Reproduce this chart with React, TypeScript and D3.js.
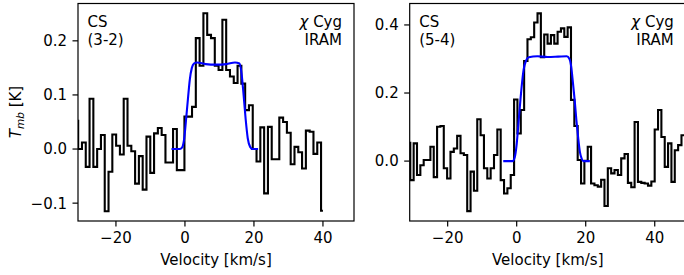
import React from 'react';
import * as d3 from 'd3';

// ---------- data ----------
const X_TICKS = [-20, 0, 20, 40];
const X_DOMAIN = [-31, 49];

// CS (3-2): channel grid start & width (km/s), antenna temperatures (K)
const CS32_V0 = -31.5;
const CS32_DV = 1.1;
const CS32_T = [
  0.052, 0.0, 0.012, -0.033, 0.093, -0.033, 0.0, 0.026, -0.115, -0.042,
  0.027, 0.006, -0.010, 0.093, 0.006, -0.004, -0.064, -0.013, -0.075, 0.023,
  -0.044, 0.029, 0.039, 0.026, -0.025, -0.025, 0.037, -0.039, -0.039, 0.060,
  0.060, 0.078, 0.205, 0.154, 0.251, 0.211, 0.205, 0.154, 0.146, 0.239,
  0.146, 0.134, 0.122, 0.154, 0.121, 0.072, 0.081, 0.0, -0.023, 0.040,
  -0.082, 0.041, -0.019, -0.019, 0.058, 0.050, 0.030, -0.028, 0.004, -0.006,
  -0.036, 0.034, 0.032, -0.009, 0.012, -0.114,
];
const CS32_FIT_V = [-3.9, -1.5, -0.8, -0.2, 0.4, 0.9, 1.4, 2.0, 2.6, 3.5, 6, 9, 12, 14.5, 15.8, 16.4, 17.0, 17.6, 18.2, 18.9, 19.6, 21.2];
const CS32_FIT_T = [0, 0, 0.003, 0.02, 0.06, 0.095, 0.128, 0.150, 0.158, 0.160, 0.157, 0.156, 0.157, 0.160, 0.158, 0.14, 0.10, 0.055, 0.02, 0.004, 0, 0];
const CS32_YTICKS = [-0.1, 0.0, 0.1, 0.2];
const CS32_YDOMAIN = [-0.133, 0.269];

// CS (5-4)
const CS54_V0 = -31.31;
const CS54_DV = 0.97;
const CS54_T = [
  0.054, -0.056, 0.052, -0.041, -0.012, 0.003, 0.003, 0.042, -0.047, 0.101,
  0.103, -0.021, -0.051, 0.027, 0.037, 0.074, 0.023, 0.018, -0.147, -0.031,
  -0.087, 0.123, 0.076, -0.021, -0.051, -0.021, 0.018, 0.093, -0.056, -0.095,
  -0.080, -0.041, 0.181, 0.081, 0.150, 0.294, 0.358, 0.364, 0.407, 0.434,
  0.305, 0.372, 0.345, 0.370, 0.345, 0.380, 0.390, 0.365, 0.393, 0.180,
  0.103, 0.003, -0.066, 0.001, 0.042, -0.066, -0.071, -0.075, -0.055, -0.132,
  -0.021, -0.036, -0.026, -0.041, 0.008, 0.021, -0.064, -0.077, 0.115, -0.061,
  -0.064, -0.066, -0.072, -0.060, 0.093, 0.150, 0.071, -0.017, 0.052, -0.061,
  0.032, 0.047, 0.076, 0.076,
];
const CS54_FIT_V = [-3.9, -1.2, -0.6, 0.0, 0.5, 1.0, 1.5, 2.0, 2.7, 3.5, 6, 9, 12, 14.5, 15.3, 15.8, 16.3, 16.8, 17.3, 17.8, 18.3, 18.8, 19.3, 21.2];
const CS54_FIT_T = [0, 0, 0.01, 0.05, 0.11, 0.17, 0.225, 0.268, 0.295, 0.305, 0.308, 0.306, 0.307, 0.308, 0.300, 0.277, 0.23, 0.179, 0.12, 0.07, 0.028, 0.008, 0, 0];
const CS54_YTICKS = [0.0, 0.2, 0.4];
const CS54_YDOMAIN = [-0.176, 0.463];

// ---------- layout ----------
const W = 684;
const H = 275;
const TOP = 3.5;
const BOTTOM = 221;
const FONT = 'DejaVu Sans, sans-serif';
const FS = 15;

type PanelProps = {
  id: string;
  x0: number;
  x1: number;
  yDomain: number[];
  yTicks: number[];
  v0: number;
  dv: number;
  values: number[];
  fitV: number[];
  fitT: number[];
  line: string;
};

function Panel(p: PanelProps) {
  const x = d3.scaleLinear().domain(X_DOMAIN).range([p.x0, p.x1]);
  const y = d3.scaleLinear().domain(p.yDomain).range([BOTTOM, TOP]);
  const pts: [number, number][] = p.values.map((t, i) => [p.v0 + i * p.dv, t]);
  const stepLine = d3
    .line<[number, number]>()
    .x((d) => x(d[0]))
    .y((d) => y(d[1]))
    .curve(d3.curveStep);
  const fitPts: [number, number][] = p.fitV.map((v, i) => [v, p.fitT[i]]);
  const fitLine = d3
    .line<[number, number]>()
    .x((d) => x(d[0]))
    .y((d) => y(d[1]))
    .curve(d3.curveMonotoneX);
  const fy = d3.format('.1f');
  const fx = d3.format('d');
  const tick = 5.5;
  return (
    <g>
      <defs>
        <clipPath id={p.id}>
          <rect x={p.x0} y={TOP} width={p.x1 - p.x0} height={BOTTOM - TOP} />
        </clipPath>
      </defs>
      <g clipPath={`url(#${p.id})`}>
        <path d={stepLine(pts) || ''} fill="none" stroke="#000" strokeWidth={2.1} strokeLinejoin="miter" />
        <path d={fitLine(fitPts) || ''} fill="none" stroke="#0000ff" strokeWidth={2.1} />
      </g>
      <rect x={p.x0} y={TOP} width={p.x1 - p.x0} height={BOTTOM - TOP} fill="none" stroke="#000" strokeWidth={1.2} />
      {X_TICKS.map((t) => (
        <g key={'x' + t}>
          <line x1={x(t)} x2={x(t)} y1={BOTTOM} y2={BOTTOM + tick} stroke="#000" strokeWidth={1.2} />
          <text x={x(t)} y={BOTTOM + 21.5} textAnchor="middle" fontFamily={FONT} fontSize={FS}>
            {fx(t)}
          </text>
        </g>
      ))}
      {p.yTicks.map((t) => (
        <g key={'y' + t}>
          <line x1={p.x0 - tick} x2={p.x0} y1={y(t)} y2={y(t)} stroke="#000" strokeWidth={1.2} />
          <text x={p.x0 - 11} y={y(t) + 5.4} textAnchor="end" fontFamily={FONT} fontSize={FS}>
            {fy(t)}
          </text>
        </g>
      ))}
      <text x={(p.x0 + p.x1) / 2} y={265} textAnchor="middle" fontFamily={FONT} fontSize={FS}>
        Velocity [km/s]
      </text>
      <text x={p.x0 + 9.5} y={26.5} fontFamily={FONT} fontSize={FS}>CS</text>
      <text x={p.x0 + 9.5} y={44.5} fontFamily={FONT} fontSize={FS}>{p.line}</text>
      <text x={p.x1 - 12} y={26.5} textAnchor="end" fontFamily={FONT} fontSize={FS}>
        <tspan fontStyle="italic">χ</tspan> Cyg
      </text>
      <text x={p.x1 - 12} y={44.5} textAnchor="end" fontFamily={FONT} fontSize={FS}>IRAM</text>
    </g>
  );
}

export default function App() {
  return (
    <svg
      width={W}
      height={H}
      viewBox={`0 0 ${W} ${H}`}
      style={{ position: 'absolute', left: 0, top: 0, background: '#fff' }}
    >
      <rect x={0} y={0} width={W} height={H} fill="#fff" />
      <Panel
        id="clipL"
        x0={78}
        x1={354}
        yDomain={CS32_YDOMAIN}
        yTicks={CS32_YTICKS}
        v0={CS32_V0}
        dv={CS32_DV}
        values={CS32_T}
        fitV={CS32_FIT_V}
        fitT={CS32_FIT_T}
        line="(3-2)"
      />
      <Panel
        id="clipR"
        x0={409.7}
        x1={685.8}
        yDomain={CS54_YDOMAIN}
        yTicks={CS54_YTICKS}
        v0={CS54_V0}
        dv={CS54_DV}
        values={CS54_T}
        fitV={CS54_FIT_V}
        fitT={CS54_FIT_T}
        line="(5-4)"
      />
      <text
        transform="translate(21,112) rotate(-90)"
        textAnchor="middle"
        fontFamily={FONT}
        fontSize={FS}
      >
        <tspan fontStyle="italic">T</tspan>
        <tspan fontStyle="italic" fontSize={10.5} dy={3}>mb</tspan>
        <tspan dy={-3}> [K]</tspan>
      </text>
    </svg>
  );
}
